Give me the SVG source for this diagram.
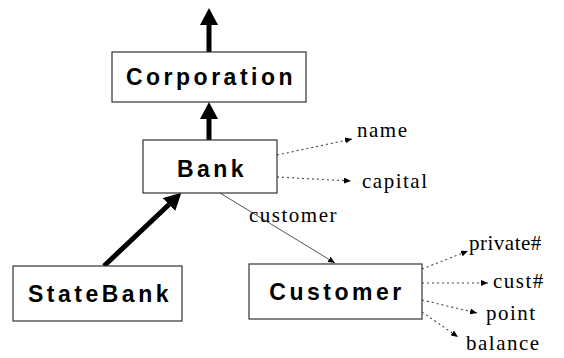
<svg xmlns="http://www.w3.org/2000/svg" width="564" height="358" viewBox="0 0 564 358">
<style>
.box{fill:#fff;stroke:#333;stroke-width:1.2}
.lbl{font-family:"Liberation Sans",Arial,sans-serif;font-weight:bold;font-size:23px;letter-spacing:3.5px;fill:#000;text-anchor:middle}
.attr{font-family:"Liberation Serif","Times New Roman",serif;font-size:21px;letter-spacing:1.5px;fill:#000}
.thick{stroke:#000;stroke-width:5;fill:none}
.dot{stroke:#444;stroke-width:1.1;stroke-dasharray:2,3;fill:none}
.thin{stroke:#555;stroke-width:1;fill:none}
</style>
<defs>
<marker id="big" markerUnits="userSpaceOnUse" markerWidth="18" markerHeight="18" refX="0" refY="9" orient="auto">
<path d="M0,0 L17,9 L0,18 z" fill="#000"/>
</marker>
<marker id="small" markerUnits="userSpaceOnUse" markerWidth="8" markerHeight="6" refX="7" refY="3" orient="auto">
<path d="M0,0 L7,3 L0,6 z" fill="#000"/>
</marker>
</defs>
<g id="connectors">
<line class="thick" x1="209" y1="52" x2="209" y2="25" marker-end="url(#big)"/>
<line class="thick" x1="209" y1="140" x2="209" y2="119" marker-end="url(#big)"/>
<line class="thick" x1="104" y1="266" x2="169" y2="204.5" marker-end="url(#big)"/>
<line class="thin" x1="220" y1="193" x2="335" y2="263" marker-end="url(#small)"/>
<line class="dot" x1="277" y1="155" x2="352" y2="139" marker-end="url(#small)"/>
<line class="dot" x1="277" y1="177" x2="351" y2="181" marker-end="url(#small)"/>
<line class="dot" x1="422" y1="269" x2="468" y2="251" marker-end="url(#small)"/>
<line class="dot" x1="422" y1="283" x2="488" y2="283" marker-end="url(#small)"/>
<line class="dot" x1="422" y1="300" x2="477" y2="313" marker-end="url(#small)"/>
<line class="dot" x1="422" y1="312" x2="458" y2="337" marker-end="url(#small)"/>
<text class="attr" x="249" y="222">customer</text>
</g>
<g id="Corporation">
<rect class="box" x="112" y="52" width="194" height="50"/>
<text class="lbl" x="211" y="85">Corporation</text>
</g>
<g id="Bank">
<rect class="box" x="143" y="140" width="134" height="53"/>
<text class="lbl" x="212" y="177">Bank</text>
</g>
<g id="StateBank">
<rect class="box" x="13" y="266" width="169" height="55"/>
<text class="lbl" x="100" y="302">StateBank</text>
</g>
<g id="Customer">
<rect class="box" x="249" y="264" width="173" height="55"/>
<text class="lbl" x="337" y="300">Customer</text>
</g>
<g id="attributes">
<text class="attr" x="357" y="137">name</text>
<text class="attr" x="362" y="188">capital</text>
<text class="attr" x="469" y="250" style="letter-spacing:0.5px">private#</text>
<text class="attr" x="493" y="288">cust#</text>
<text class="attr" x="486" y="320">point</text>
<text class="attr" x="466" y="350">balance</text>
</g>
</svg>
